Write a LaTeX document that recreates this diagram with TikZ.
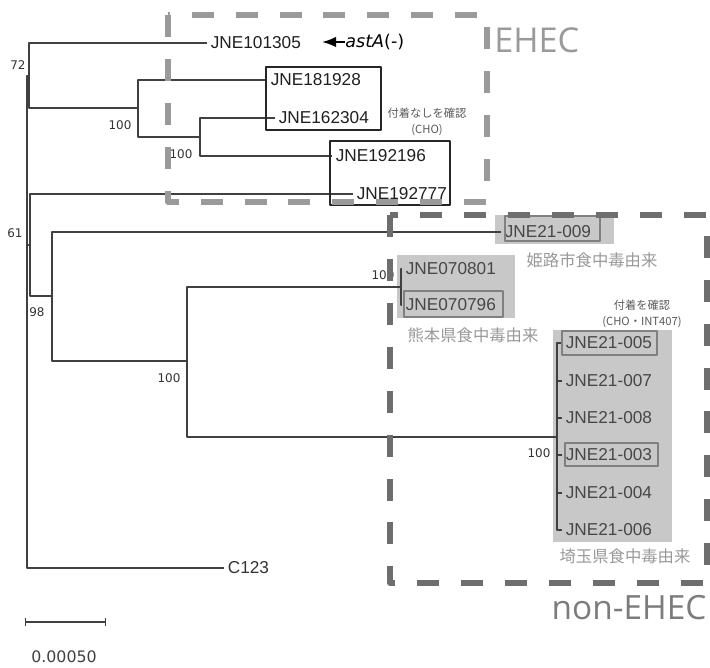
\documentclass[tikz,border=0pt]{standalone}
\usepackage{fontspec}
\setmainfont{Liberation Sans}
\newfontfamily\opensans{Open Sans}
\newfontfamily\dejavu{DejaVu Sans}
\newfontfamily\cjk{Noto Sans CJK JP}
\usetikzlibrary{arrows.meta,positioning}
\definecolor{groupgrey}{HTML}{C8C8C8}
\definecolor{ehecgrey}{HTML}{9A9A9A}
\definecolor{nonehecgrey}{HTML}{6E6E6E}
\definecolor{notegrey}{HTML}{999999}
\begin{document}
\begin{tikzpicture}[x=0.02cm,y=-0.02cm,line join=round,>=Latex]
	\tikzset{branch/.style={draw=black!75,line width=0.6pt},
		leaf/.style={anchor=west,inner xsep=2pt,inner ysep=1pt,font=\fontsize{9.8}{11}\selectfont,text=black!88},
		grpleaf/.style={leaf,text=black!72},
		boot/.style={inner sep=0pt,font=\dejavu\fontsize{6.8}{8}\selectfont,text=black!80},
		boxed/.style={draw=black!85,line width=1.2pt},
		grpbox/.style={draw=black!50,line width=0.9pt},
		bigdash/.style={line width=3.2pt,dash pattern=on 12.5pt off 12.5pt},
		origin/.style={inner sep=0pt,font=\cjk\fontsize{9.3}{11}\selectfont,text=notegrey},
		adhesion/.style={inner sep=0pt,font=\cjk\fontsize{6.4}{8}\selectfont,text=black!65}}
	\useasboundingbox (0,0) rectangle (710,668);
	% shaded outbreak groups
	\fill[groupgrey] (495,215) rectangle (614,244);
	\fill[groupgrey] (397,255) rectangle (515,318);
	\fill[groupgrey] (553,330) rectangle (672,542);
	% internal nodes
	\coordinate (root) at (27,364);
	\coordinate (n61) at (27,160);
	\coordinate (nA) at (29,76);
	\coordinate (nB) at (138,108);
	\coordinate (nC) at (200,137);
	\coordinate (n98) at (30,245);
	\coordinate (nD) at (52,296);
	\coordinate (nE) at (187,361);
	\coordinate (nF) at (401,287);
	\coordinate (nG) at (557,437);
	% leaves
	\node[leaf] (l101305) at (207,43) {JNE101305};
	\node[leaf] (l181928) at (267,80) {JNE181928};
	\node[leaf] (l162304) at (275,118) {JNE162304};
	\node[leaf] (l192196) at (332,156) {JNE192196};
	\node[leaf] (l192777) at (353,194) {JNE192777};
	\node[grpleaf] (l21009) at (501,232) {JNE21-009};
	\node[grpleaf] (l070801) at (402,269) {JNE070801};
	\node[grpleaf] (l070796) at (402,305) {JNE070796};
	\foreach \num/\yy in {005/343,007/381,008/418,003/455,004/493,006/530}
		\node[grpleaf] (l21\num) at (562,\yy) {JNE21-\num};
	\node[leaf,text=black!80] (c123) at (224,568) {C123};
	% branches
	\foreach \from/\to in {root/n61,root/c123.west,n61/nA,n61/n98,nA/l101305.west,nA/nB,
		nB/l181928.west,nB/nC,nC/l162304.west,nC/l192196.west,n98/l192777.west,n98/nD,
		nD/l21009.west,nD/nE,nE/nF,nE/nG,nF/l070801.west,nF/l070796.west}
		\draw[branch] (\from) |- (\to);
	\foreach \num in {005,007,008,003,004,006}
		\draw[branch] (nG) |- (l21\num.west);
	% bootstrap values
	\node[boot] (b72) at (18,65) {72};
	\node[boot] (bB) at (120,125) {100};
	\node[boot] (bC) at (181,154) {100};
	\node[boot] (b61) at (15,233) {61};
	\node[boot] (b98) at (37,312) {98};
	\node[boot] (bE) at (169,378) {100};
	\node[boot] (bF) at (383,275) {100};
	\node[boot] (bG) at (539,453) {100};
	% boxed strains
	\draw[boxed] (266,67) rectangle (381,130);
	\draw[boxed] (330,141) rectangle (450,205);
	\draw[grpbox] (505,216) rectangle (600,241);
	\draw[grpbox] (404,291) rectangle (503,317);
	\draw[grpbox] (562,331) rectangle (657,355);
	\draw[grpbox] (565,443) rectangle (658,466);
	% astA marker
	\node[anchor=west,inner sep=0pt,font=\dejavu\fontsize{10}{12}\selectfont] (asta) at (345,42) {\itshape astA\upshape(-)};
	\coordinate (astip) at (322,42);
	\draw[-{Latex[length=8pt,width=6pt]},line width=1.1pt] (asta.west) -- (astip);
	% notes
	\node[adhesion] (noadh) at (427,113) {付着なしを確認};
	\node[adhesion,below=3pt of noadh] (noadhcho) {(CHO)};
	\node[adhesion] (adh) at (642,305) {付着を確認};
	\node[adhesion,below=3pt of adh] (adhcell) {(CHO・INT407)};
	\node[origin] (himeji) at (592,260) {姫路市食中毒由来};
	\node[origin] (kumamoto) at (473,335) {熊本県食中毒由来};
	\node[origin] (saitama) at (625,556) {埼玉県食中毒由来};
	% clusters
	\draw[bigdash,ehecgrey] (168,15) rectangle (487,202);
	\draw[bigdash,nonehecgrey] (390,215) rectangle (707,583);
	\node[anchor=west,inner sep=0pt,font=\opensans\fontsize{19.5}{22}\selectfont,text=ehecgrey] (ehec) at (494,40) {EHEC};
	\node[anchor=base,inner sep=0pt,font=\opensans\fontsize{19}{22}\selectfont,text=nonehecgrey!90] (nonehec) at (629,620) {non-EHEC};
	% scale bar
	\coordinate (sbl) at (25,622);
	\coordinate (sbr) at (106,622);
	\draw[{Bar[width=5pt]}-{Bar[width=5pt]},line width=0.7pt,black!75] (sbl) -- (sbr);
	\node[inner sep=0pt,font=\dejavu\fontsize{9}{11}\selectfont,text=black!75] (sblabel) at (64,657) {0.00050};
\end{tikzpicture}
\end{document}
